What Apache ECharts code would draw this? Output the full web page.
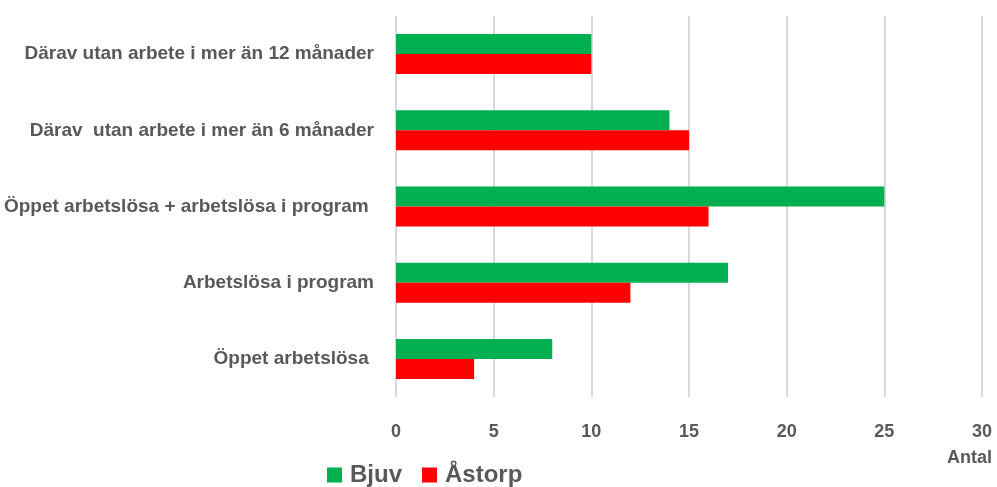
<!DOCTYPE html>
<html>
<head>
<meta charset="utf-8">
<script src="https://cdn.jsdelivr.net/npm/echarts@6/dist/echarts.min.js"></script>
<style>
  html, body { margin: 0; padding: 0; background: #fff; }
  #main { width: 997px; height: 487px; }
</style>
</head>
<body>
<div id="main"></div>
<script>
var myChart = echarts.init(document.getElementById('main'));

// kategorier nedifrån och upp
var categories = [
  'Öppet arbetslösa ',
  'Arbetslösa i program',
  'Öppet arbetslösa + arbetslösa i program ',
  'Därav  utan arbete i mer än 6 månader',
  'Därav utan arbete i mer än 12 månader'
];
var bjuv = [8, 17, 25, 14, 10];
var astorp = [4, 12, 16, 15, 10];
var seriesNames = ['Bjuv', 'Åstorp'];

var fontFam = '"Liberation Sans", sans-serif';

var option = {
  animation: false,
  textStyle: { fontFamily: fontFam },
  grid: { left: 396, right: 15, top: 16, bottom: 90 },
  legend: {
    left: 322,
    top: 458,
    itemWidth: 15,
    itemHeight: 15,
    itemGap: 20,
    icon: 'rect',
    data: seriesNames,
    textStyle: { fontSize: 24, fontWeight: 'bold', color: '#595959', fontFamily: fontFam, padding: [0, 0, 0, 3] }
  },
  xAxis: {
    type: 'value',
    min: 0,
    max: 30,
    interval: 5,
    name: 'Antal',
    nameLocation: 'end',
    nameGap: 10,
    nameTextStyle: {
      align: 'right', verticalAlign: 'top', padding: [52, 0, 0, 0],
      fontSize: 18, fontWeight: 'bold', color: '#595959'
    },
    axisLine: { show: false },
    axisTick: { show: false },
    axisLabel: { margin: 26, fontSize: 18, fontWeight: 'bold', color: '#595959' },
    splitLine: { lineStyle: { color: '#d9d9d9', width: 2 } }
  },
  yAxis: {
    type: 'category',
    data: categories,
    axisLine: { show: false },
    axisTick: { show: false },
    axisLabel: { margin: 22, fontSize: 19, fontWeight: 'bold', color: '#595959' }
  },
  series: [{
    name: 'Bjuv',
    type: 'bar',
    data: bjuv,
    barWidth: 20,
    barGap: '0%',
    itemStyle: { color: '#00b050' }
  }, {
    name: 'Åstorp',
    type: 'bar',
    data: astorp,
    barWidth: 20,
    barGap: '0%',
    itemStyle: { color: '#ff0000' }
  }]
};

myChart.setOption(option);
</script>
</body>
</html>
